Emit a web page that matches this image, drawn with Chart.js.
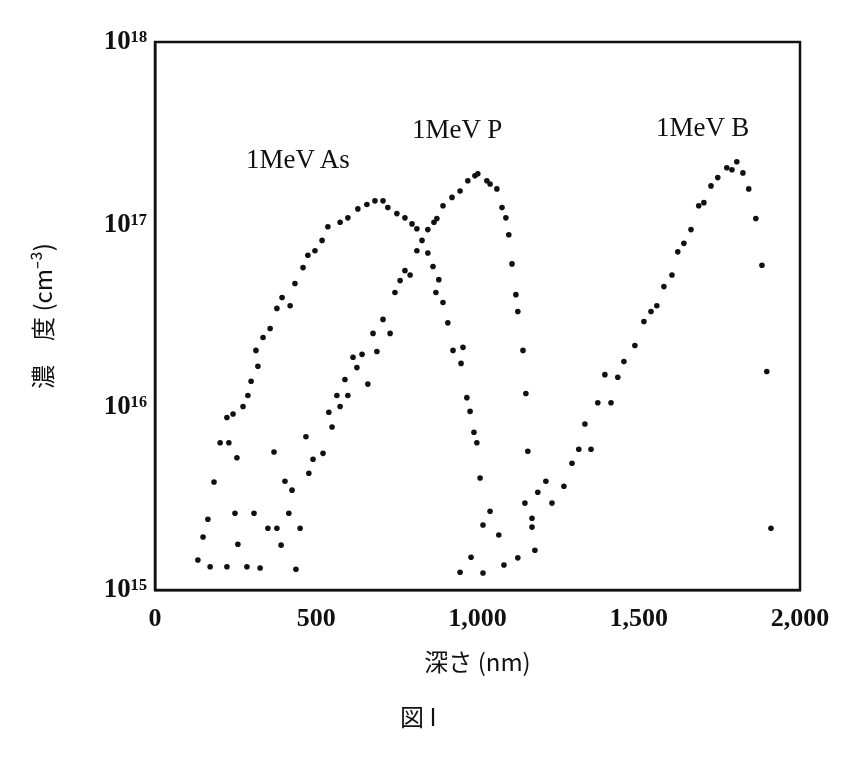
<!DOCTYPE html>
<html>
<head>
<meta charset="utf-8">
<script src="https://cdn.jsdelivr.net/npm/chart.js@4"></script>
<style>
  body { margin: 0; background: #fff; }
  #wrap { position: relative; width: 867px; height: 758px; }
  .lbl { position: absolute; font-family: "Liberation Serif", "DejaVu Serif", serif; font-size: 27px; color: #111; }
</style>
</head>
<body>
<div id="wrap">
  <canvas id="chart" width="867" height="758"></canvas>
  <div class="lbl" style="left:246px;top:144px">1MeV As</div>
  <div class="lbl" style="left:412px;top:114px">1MeV P</div>
  <div class="lbl" style="left:656px;top:112px">1MeV B</div>
  <div class="lbl" style="left:400px;top:698px;font-family:'Noto Sans CJK JP',serif;font-size:24px">図 I</div>
</div>
<script>
// depth (nm) and concentration (cm^-3)
const asDepth = [133, 171, 149, 164, 183, 202, 229, 254, 223, 242, 273, 288, 298, 319, 313, 335, 357, 378, 394, 419, 434, 459, 474, 496, 518, 536, 574, 598, 629, 657, 682, 707, 722, 750, 775, 797, 812, 828, 812, 846, 862, 880, 871, 893, 908, 924, 955, 949, 967, 977, 989, 998, 1008, 1039, 1017, 1066, 980, 946, 1017];
const asConc = [1.46e15, 1.34e15, 1.95e15, 2.44e15, 3.9e15, 6.4e15, 6.4e15, 5.3e15, 8.8e15, 9.2e15, 1.01e16, 1.16e16, 1.39e16, 1.68e16, 2.05e16, 2.41e16, 2.7e16, 3.48e16, 3.99e16, 3.6e16, 4.76e16, 5.82e16, 6.8e16, 7.2e16, 8.2e16, 9.75e16, 1.03e17, 1.09e17, 1.22e17, 1.29e17, 1.35e17, 1.35e17, 1.24e17, 1.15e17, 1.09e17, 1.01e17, 9.5e16, 8.2e16, 7.2e16, 7.0e16, 5.9e16, 5.0e16, 4.25e16, 3.75e16, 2.9e16, 2.05e16, 2.13e16, 1.74e16, 1.13e16, 9.5e15, 7.3e15, 6.4e15, 4.1e15, 2.7e15, 2.27e15, 2.0e15, 1.51e15, 1.25e15, 1.24e15];

const pDepth = [223, 248, 257, 285, 307, 326, 350, 378, 391, 369, 403, 425, 415, 437, 450, 468, 477, 490, 521, 539, 549, 564, 574, 589, 598, 614, 626, 642, 660, 676, 688, 707, 729, 744, 760, 775, 791, 846, 865, 874, 893, 921, 946, 970, 992, 1001, 1029, 1039, 1060, 1076, 1088, 1097, 1107, 1119, 1125, 1141, 1150, 1156, 1169, 1169, 1178];
const pConc = [1.34e15, 2.63e15, 1.78e15, 1.34e15, 2.63e15, 1.32e15, 2.18e15, 2.18e15, 1.76e15, 5.7e15, 3.94e15, 3.52e15, 2.63e15, 1.3e15, 2.18e15, 6.9e15, 4.36e15, 5.2e15, 5.6e15, 9.4e15, 7.8e15, 1.16e16, 1.01e16, 1.42e16, 1.16e16, 1.88e16, 1.65e16, 1.95e16, 1.34e16, 2.54e16, 2.02e16, 3.03e16, 2.54e16, 4.25e16, 4.94e16, 5.6e16, 5.3e16, 9.4e16, 1.03e17, 1.08e17, 1.27e17, 1.41e17, 1.53e17, 1.74e17, 1.85e17, 1.9e17, 1.74e17, 1.67e17, 1.57e17, 1.24e17, 1.09e17, 8.8e16, 6.1e16, 4.14e16, 3.35e16, 2.05e16, 1.19e16, 5.75e15, 2.47e15, 2.21e15, 1.65e15];

const bDepth = [1082, 1125, 1147, 1187, 1212, 1231, 1268, 1293, 1314, 1352, 1333, 1373, 1414, 1395, 1435, 1454, 1488, 1516, 1538, 1556, 1578, 1603, 1621, 1640, 1662, 1686, 1702, 1724, 1745, 1773, 1789, 1804, 1823, 1841, 1863, 1882, 1897, 1910];
const bConc = [1.37e15, 1.5e15, 2.99e15, 3.43e15, 3.94e15, 2.99e15, 3.7e15, 4.94e15, 5.9e15, 5.9e15, 8.1e15, 1.06e16, 1.06e16, 1.51e16, 1.46e16, 1.78e16, 2.18e16, 2.95e16, 3.35e16, 3.6e16, 4.58e16, 5.3e16, 7.1e16, 7.9e16, 9.4e16, 1.27e17, 1.32e17, 1.63e17, 1.81e17, 2.05e17, 2.0e17, 2.21e17, 1.92e17, 1.57e17, 1.08e17, 6.0e16, 1.57e16, 2.18e15];

const xTicks = [0, 500, 1000, 1500, 2000];
const yTicks = [1e15, 1e16, 1e17, 1e18];
const yLabels = ["10¹⁵", "10¹⁶", "10¹⁷", "10¹⁸"];

const serif = '"Liberation Serif", "DejaVu Serif", serif';

function pts(xs, ys) {
  return xs.map((x, i) => ({ x: x, y: ys[i] }));
}

function series(label, xs, ys) {
  return {
    label: label,
    data: pts(xs, ys),
    backgroundColor: "#111",
    borderColor: "#111",
    pointRadius: 2.8,
    pointBorderWidth: 0,
  };
}

new Chart(document.getElementById("chart"), {
  type: "scatter",
  data: {
    datasets: [
      series("1MeV As", asDepth, asConc),
      series("1MeV P", pDepth, pConc),
      series("1MeV B", bDepth, bConc),
    ],
  },
  options: {
    responsive: false,
    animation: false,
    layout: { padding: { top: 42, right: 67, bottom: 78, left: 24 } },
    plugins: { legend: { display: false }, tooltip: { enabled: false } },
    scales: {
      x: {
        type: "linear",
        min: 0,
        max: 2000,
        afterBuildTicks: (s) => { s.ticks = xTicks.map((v) => ({ value: v })); },
        afterFit: (s) => { s.height = 90; },
        grid: { display: false, drawTicks: false },
        border: { color: "#111", width: 2.5 },
        ticks: {
          color: "#111",
          padding: 14,
          font: { family: serif, size: 26, weight: "bold" },
          callback: (v) => v.toLocaleString("en-US"),
        },
        title: {
          display: true,
          text: "深さ (nm)",
          color: "#111",
          font: { family: '"Noto Sans CJK JP", serif', size: 24 },
          padding: { top: 14 },
        },
      },
      y: {
        type: "logarithmic",
        min: 1e15,
        max: 1e18,
        afterBuildTicks: (s) => { s.ticks = yTicks.map((v) => ({ value: v })); },
        afterFit: (s) => { s.width = 131; },
        grid: { display: false, drawTicks: false },
        border: { color: "#111", width: 2.5 },
        ticks: {
          color: "#111",
          padding: 8,
          font: { family: serif, size: 27, weight: "bold" },
          callback: (v) => yLabels[yTicks.indexOf(v)],
        },
        title: {
          display: true,
          text: "濃　度 (cm⁻³)",
          color: "#111",
          font: { family: '"Noto Sans CJK JP", serif', size: 24 },
          padding: { bottom: 6 },
        },
      },
    },
  },
  plugins: [{
    id: "frame",
    afterDraw(chart) {
      const { ctx, chartArea: a } = chart;
      ctx.save();
      ctx.strokeStyle = "#111";
      ctx.lineWidth = 2.5;
      ctx.strokeRect(a.left, a.top, a.right - a.left, a.bottom - a.top);
      ctx.restore();
    },
  }],
});
</script>
</body>
</html>
